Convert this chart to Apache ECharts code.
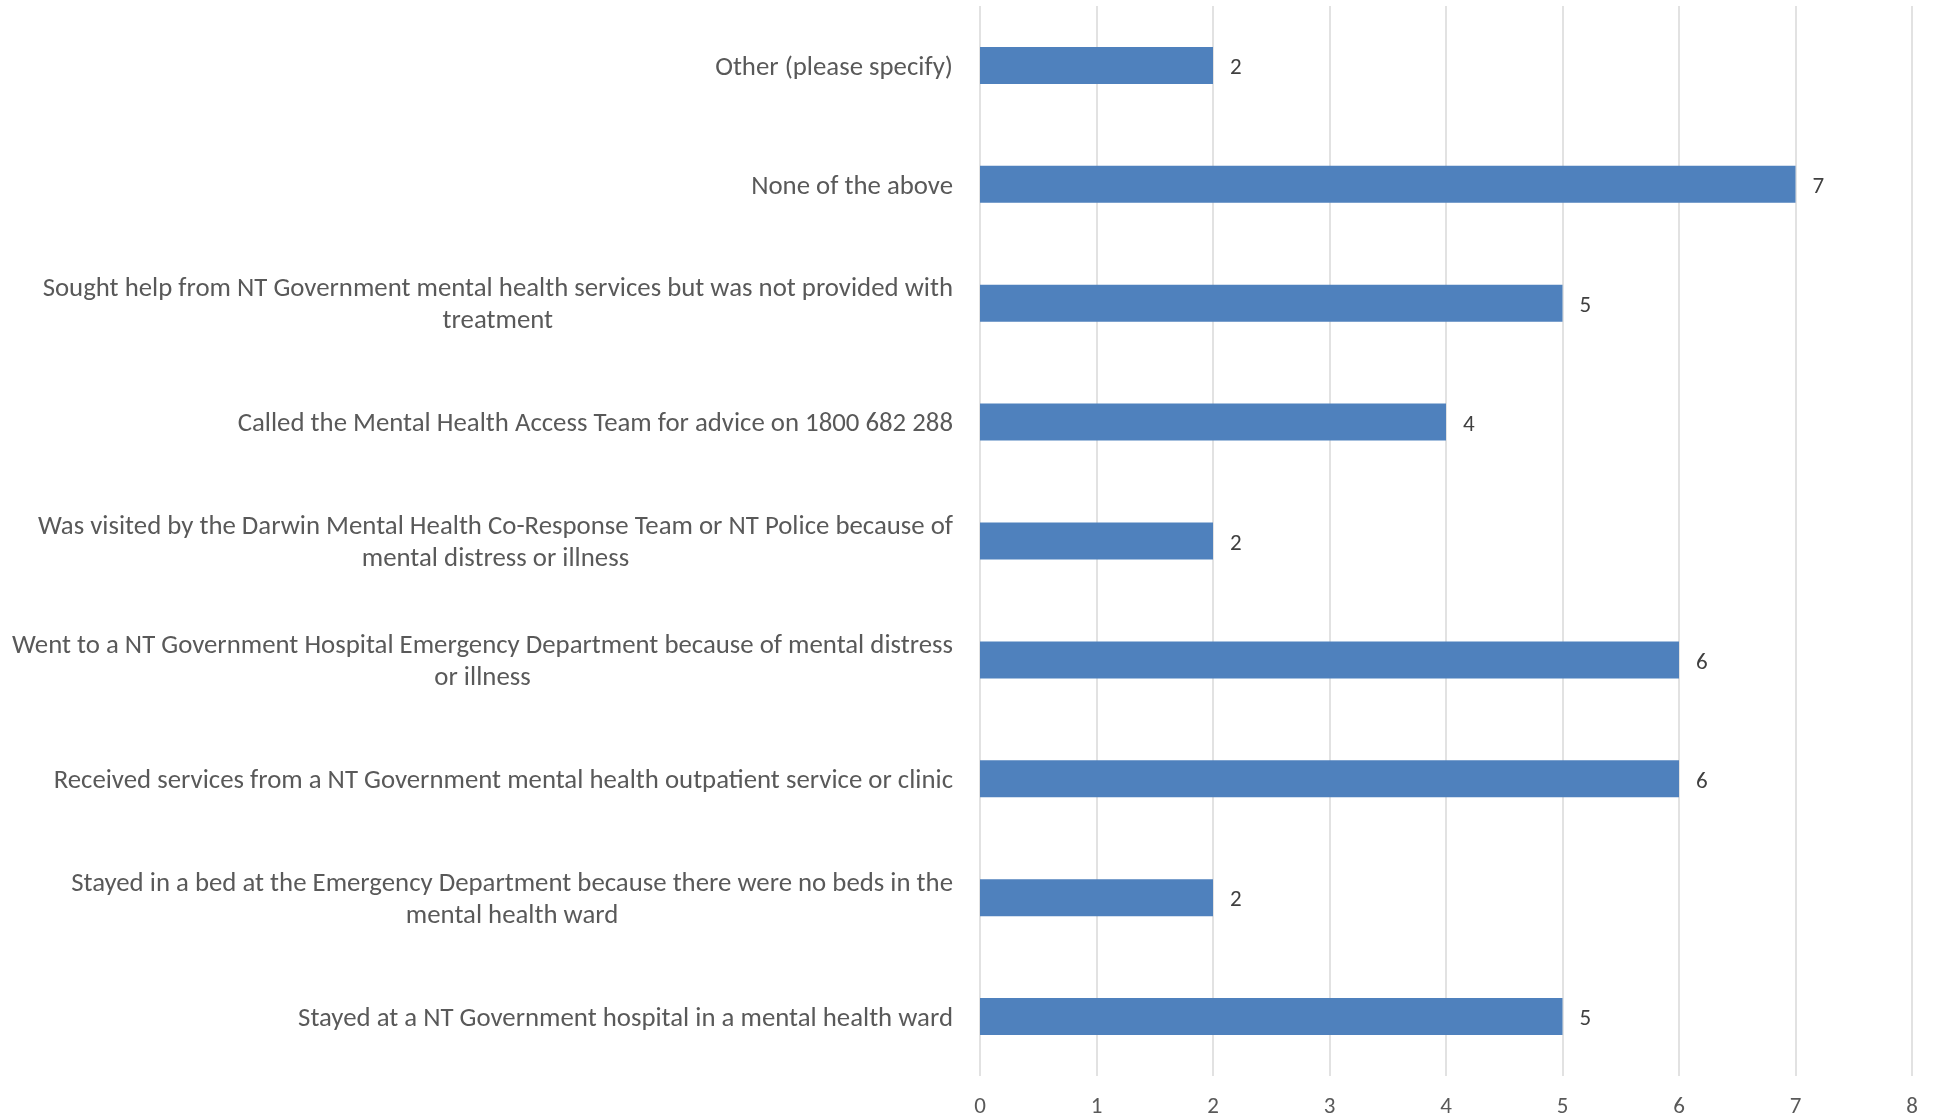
<!DOCTYPE html>
<html>
<head>
<meta charset="utf-8">
<script src="https://cdn.jsdelivr.net/npm/echarts@6/dist/echarts.min.js"></script>
<style>
  html, body { margin: 0; padding: 0; background: #fff; }
  #chart { width: 1943px; height: 1120px; }
</style>
</head>
<body>
<div id="chart"></div>
<script>
  // top to bottom, as in the picture
  const categories = [
    'Other (please specify)',
    'None of the above',
    'Sought help from NT Government mental health services but was not provided with\ntreatment',
    'Called the Mental Health Access Team for advice on 1800 682 288',
    'Was visited by the Darwin Mental Health Co-Response Team or NT Police because of\nmental distress or illness',
    'Went to a NT Government Hospital Emergency Department because of mental distress\nor illness',
    'Received services from a NT Government mental health outpatient service or clinic',
    'Stayed in a bed at the Emergency Department because there were no beds in the\nmental health ward',
    'Stayed at a NT Government hospital in a mental health ward',
  ];
  const counts = [2, 7, 5, 4, 2, 6, 6, 2, 5];
  const xTicks = [0, 1, 2, 3, 4, 5, 6, 7, 8];

  const font = 'Carlito, Calibri, Lato, sans-serif';
  const myChart = echarts.init(document.getElementById('chart'));

  const options = {
    animation: false,
    grid: { left: 980, right: 31, top: 6, bottom: 44, containLabel: false },
    xAxis: {
      type: 'value',
      min: xTicks[0],
      max: xTicks[xTicks.length - 1],
      interval: 1,
      axisLine: { show: false },
      axisTick: { show: false },
      axisLabel: { color: '#595959', fontSize: 23, fontFamily: font, margin: 20 },
      splitLine: { lineStyle: { color: '#d9d9d9', width: 1.5 } },
    },
    yAxis: {
      type: 'category',
      inverse: true,
      data: categories,
      axisLine: { show: false },
      axisTick: { show: false },
      axisLabel: {
        margin: 27,
        align: 'right',
        padding: [5, 0, 0, 0],
        // keep each wrapped line centred under the first, like the original
        formatter: (v) => v.split('\n').map((s) => '{c|' + s + '}').join('\n'),
        rich: {
          c: { align: 'center', color: '#595959', fontSize: 26.8, fontFamily: font, lineHeight: 32 },
        },
      },
    },
    series: [
      {
        type: 'bar',
        data: counts,
        barWidth: 37,
        itemStyle: { color: '#4f81bd' },
        label: {
          show: true,
          position: 'right',
          distance: 17,
          offset: [0, 3],
          color: '#404040',
          fontSize: 23,
          fontFamily: font,
        },
      },
    ],
  };
  myChart.setOption(options);
</script>
</body>
</html>
